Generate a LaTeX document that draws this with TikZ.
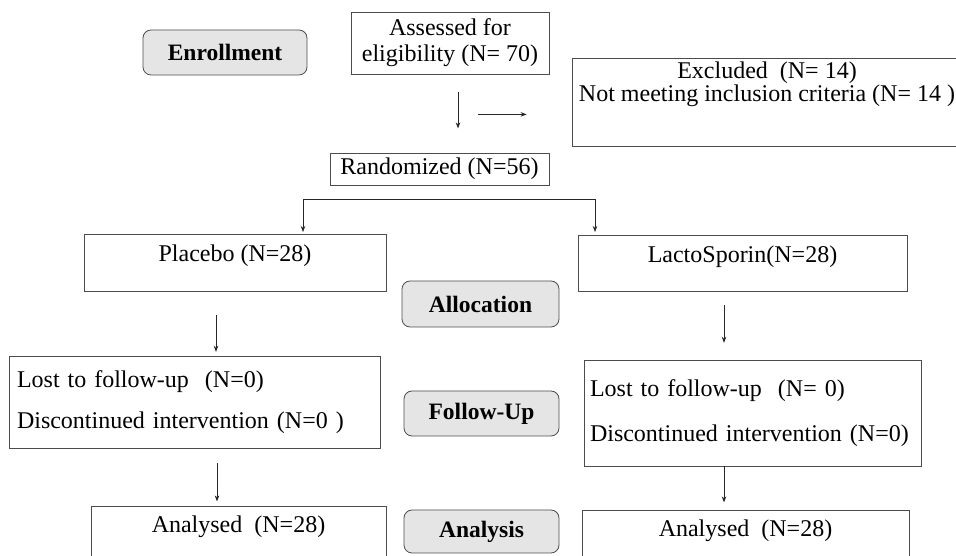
\documentclass[tikz,border=0pt]{standalone}
\usepackage{fontspec}
\setmainfont{Liberation Serif}
\usetikzlibrary{arrows.meta, positioning}

\tikzset{
	box/.style={draw=black!70, line width=0.8pt, inner sep=0pt, font=\fontsize{24}{19}\selectfont},
	stage/.style={box, rounded corners=8pt, fill=black!10, font=\fontsize{23.5}{20}\selectfont\bfseries},
	arr/.style={-{Stealth[length=6pt,width=4.5pt]}, line width=0.7pt, black!85},
}

\begin{document}
\begin{tikzpicture}[x=1pt, y=1pt]
	\useasboundingbox (0,0) rectangle (956,556);

	\node[stage, minimum width=164pt, minimum height=45pt] (enroll) at (225,503.5) {Enrollment};
	\node[box, minimum width=198pt, minimum height=62pt, align=center] (assessed) at (450,513) {Assessed for\\[7pt]eligibility (N= 70)};
	\node[box, font=\fontsize{24}{21}\selectfont, minimum width=390pt, text height=43pt, text depth=45pt, align=center, anchor=north] (excluded) at (767,498) {Excluded\ \ (N= 14)\\Not meeting inclusion criteria (N= 14 )};
	\node[box, minimum width=219pt, minimum height=32pt] (random) at (439.5,387) {Randomized (N=56)};

	\node[box, minimum width=302pt, text height=27pt, text depth=30pt, anchor=north] (placebo) at (235,322) {Placebo (N=28)};
	\node[box, minimum width=329pt, text height=27pt, text depth=29pt, anchor=north] (lacto) at (742.5,321) {LactoSporin(N=28)};
	\node[stage, minimum width=157pt, minimum height=46pt] (alloc) at (480.5,252) {Allocation};

	\node[box, text width=355pt, inner xsep=8pt, minimum height=92pt, align=left] (lostL) at (194.5,154) {Lost to follow-up\ \ (N=0)\\[18pt]Discontinued intervention (N=0 )};
	\node[box, text width=325pt, inner xsep=6pt, minimum height=106pt, align=left] (lostR) at (752.5,143) {Lost to follow-up\ \ (N= 0)\\[22pt]Discontinued intervention (N=0)};
	\node[stage, minimum width=155pt, minimum height=45pt] (follow) at (481.5,142.5) {Follow-Up};

	\node[box, minimum width=295pt, text height=26pt, text depth=44pt, anchor=north] (analysedL) at (238.5,50) {Analysed\ \ (N=28)};
	\node[box, minimum width=327pt, text height=26pt, text depth=40pt, anchor=north] (analysedR) at (745.5,46) {Analysed\ \ (N=28)};
	\node[stage, minimum width=155pt, minimum height=43pt] (analysis) at (481.5,24.5) {Analysis};

	\draw[arr] ([xshift=8pt, yshift=-18pt]assessed.south) -- ++(0,-36);
	\draw[arr] ([xshift=-94pt, yshift=-12pt]excluded.west) -- ++(49,0);

	\coordinate (split) at ([xshift=68pt, yshift=35pt]placebo.north);
	\draw[arr] (split) -- ([yshift=2pt]split |- placebo.north);
	\draw[arr] (split) -| ([xshift=-147.5pt, yshift=3pt]lacto.north);

	\draw[arr] ([xshift=-19pt, yshift=-23pt]placebo.south) -- ++(0,-37);
	\draw[arr] ([xshift=-18.5pt, yshift=-13pt]lacto.south) -- ++(0,-38);
	\draw[arr] ([xshift=22.5pt, yshift=-15pt]lostL.south) -- ++(0,-38);
	\draw[arr] ([xshift=-28.5pt]lostR.south) -- ++(0,-36);
\end{tikzpicture}
\end{document}
